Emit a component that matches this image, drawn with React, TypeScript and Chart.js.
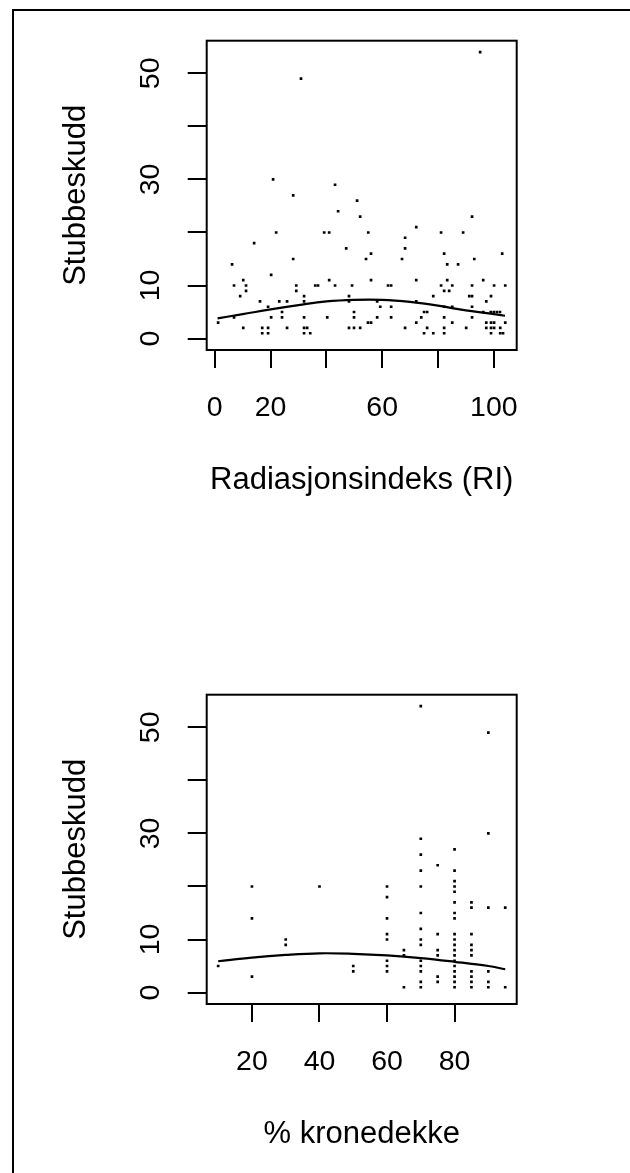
import React, { useEffect, useRef } from 'react';
import { Chart, registerables } from 'chart.js';

Chart.register(...registerables);

const FONT = "'Liberation Sans', Arial, Helvetica, sans-serif";

// ---------- Panel 1: Radiasjonsindeks (RI) vs Stubbeskudd ----------
const riX = [
  95.1, 30.9, 20.9, 43.1, 28.1,
  51.0, 44.2, 52.1, 92.2, 72.2,
  22.0, 39.2, 41.0, 55.0, 81.1, 89.0,
  68.2, 14.1, 47.1, 68.2,
  56.0, 82.2, 103.0,
  28.1, 54.2, 67.1, 93.0,
  6.2, 83.3, 87.2,
  20.2,
  10.2, 41.0, 56.0, 72.2, 83.3, 96.2,
  6.9, 11.2, 29.2, 36.0, 37.0, 43.1, 49.2, 62.1, 63.2, 81.1, 85.1, 92.2, 100.1, 104.1,
  11.2, 29.2, 82.2, 84.0,
  9.1, 32.0, 48.1, 78.3, 91.2, 92.2, 99.0,
  16.2, 23.1, 25.9, 32.0, 48.1, 58.2, 72.2, 97.3,
  19.1, 59.3, 63.2, 82.2, 85.1, 92.2,
  24.1, 49.9, 75.0, 76.1, 96.2, 98.9, 100.0, 101.1, 102.2,
  6.9, 20.2, 24.1, 32.0, 40.3, 49.9, 58.2, 63.2, 74.0, 82.2, 92.2,
  1.2, 54.9, 56.0, 72.2, 85.1, 97.3, 99.0, 100.1, 104.1,
  10.2, 17.0, 19.1, 25.9, 32.0, 33.1, 48.1, 49.9, 52.1, 68.2, 76.1, 82.2, 90.1, 97.3, 99.0, 100.1, 102.3,
  17.0, 19.1, 32.0, 34.2, 75.0, 78.3, 82.2, 99.0, 102.3, 103.3,
];
const riY = [
  54, 49, 30, 29, 27,
  26, 24, 23, 23, 21,
  20, 20, 20, 20, 20, 20,
  19, 18, 17, 17,
  16, 16, 16,
  15, 15, 15, 15,
  14, 14, 14,
  12,
  11, 11, 11, 11, 11, 11,
  10, 10, 10, 10, 10, 10, 10, 10, 10, 10, 10, 10, 10, 10,
  9, 9, 9, 9,
  8, 8, 8, 8, 8, 8, 8,
  7, 7, 7, 7, 7, 7, 7, 7,
  6, 6, 6, 6, 6, 6,
  5, 5, 5, 5, 5, 5, 5, 5, 5,
  4, 4, 4, 4, 4, 4, 4, 4, 4, 4, 4,
  3, 3, 3, 3, 3, 3, 3, 3, 3,
  2, 2, 2, 2, 2, 2, 2, 2, 2, 2, 2, 2, 2, 2, 2, 2, 2,
  1, 1, 1, 1, 1, 1, 1, 1, 1, 1,
];
const riCurveX = [1, 10, 20, 30, 40, 50, 60, 70, 80, 90, 100, 104];
const riCurveY = [3.8, 4.6, 5.5, 6.3, 7.0, 7.3, 7.3, 6.9, 6.2, 5.3, 4.6, 4.3];
const riTicks = [0, 20, 40, 60, 80, 100];
const riTickLabels = ['0', '20', '', '60', '', '100'];
const riTitle = 'Radiasjonsindeks (RI)';

// ---------- Panel 2: % kronedekke vs Stubbeskudd ----------
const kdX = [
  10,
  20, 20, 20,
  30, 30,
  40,
  50, 50,
  60, 60, 60, 60, 60, 60, 60, 60,
  65, 65, 65,
  70, 70, 70, 70, 70, 70, 70, 70, 70, 70, 70, 70, 70, 70,
  75, 75, 75, 75, 75, 75,
  80, 80, 80, 80, 80, 80, 80, 80, 80, 80, 80, 80, 80, 80, 80, 80, 80, 80, 80,
  85, 85, 85, 85, 85, 85, 85, 85, 85, 85,
  90, 90, 90, 90, 90, 90,
  95, 95,
];
const kdY = [
  5,
  20, 14, 3,
  10, 9,
  20,
  5, 4,
  20, 18, 14, 11, 10, 6, 5, 4,
  8, 7, 1,
  54, 29, 26, 23, 20, 15, 12, 10, 9, 6, 5, 4, 2, 1,
  24, 11, 8, 7, 3, 2,
  27, 23, 21, 20, 19, 17, 15, 14, 11, 10, 9, 8, 7, 6, 5, 4, 3, 2, 1,
  17, 16, 11, 9, 8, 7, 4, 3, 2, 1,
  49, 30, 16, 4, 2, 1,
  16, 1,
];
const kdCurveX = [10, 20, 30, 40, 50, 60, 70, 80, 90, 95];
const kdCurveY = [5.9, 6.6, 7.1, 7.4, 7.3, 7.0, 6.5, 5.8, 5.0, 4.4];
const kdTicks = [20, 40, 60, 80];
const kdTickLabels = ['20', '40', '60', '80'];
const kdTitle = '% kronedekke';

// ---------- shared y axis ----------
const yTicks = [0, 10, 20, 30, 40, 50];
const yTickLabels = ['0', '10', '', '30', '', '50'];
const yTitle = 'Stubbeskudd';

const boxPlugin = {
  id: 'plotBox',
  afterDatasetsDraw(chart: any) {
    const { ctx, chartArea } = chart;
    ctx.save();
    ctx.strokeStyle = '#000';
    ctx.lineWidth = 2;
    ctx.strokeRect(chartArea.left, chartArea.top, chartArea.right - chartArea.left, chartArea.bottom - chartArea.top);
    ctx.restore();
  },
};

type PanelProps = {
  top: number;
  xs: number[];
  ys: number[];
  cx: number[];
  cy: number[];
  xMin: number;
  xMax: number;
  xTicks: number[];
  xLabels: string[];
  xTitle: string;
};

function Panel({ top, xs, ys, cx, cy, xMin, xMax, xTicks, xLabels, xTitle }: PanelProps) {
  const ref = useRef<HTMLCanvasElement>(null);
  useEffect(() => {
    const chart = new Chart(ref.current as HTMLCanvasElement, {
      type: 'scatter',
      data: {
        datasets: [
          {
            type: 'line',
            data: cx.map((x, i) => ({ x, y: cy[i] })),
            borderColor: '#000',
            borderWidth: 2.2,
            pointRadius: 0,
            tension: 0.4,
            fill: false,
          } as any,
          {
            type: 'scatter',
            data: xs.map((x, i) => ({ x, y: ys[i] })),
            pointStyle: 'rect',
            pointRadius: 1.9,
            pointHoverRadius: 1.9,
            backgroundColor: '#000',
            borderColor: '#000',
            borderWidth: 0,
          } as any,
        ],
      },
      options: {
        responsive: false,
        animation: false,
        devicePixelRatio: 1,
        events: [],
        layout: { padding: { left: 58.1, right: 113.3, top: 40.7, bottom: 155.4 } },
        plugins: { legend: { display: false }, tooltip: { enabled: false } },
        scales: {
          x: {
            type: 'linear',
            position: 'bottom',
            min: xMin,
            max: xMax,
            afterBuildTicks: (s: any) => {
              s.ticks = xTicks.map((v) => ({ value: v }));
            },
            ticks: {
              callback: (v: any) => {
                const i = xTicks.indexOf(Number(v));
                return i >= 0 ? xLabels[i] : '';
              },
              autoSkip: false,
              maxRotation: 0,
              minRotation: 0,
              padding: 23.4,
              color: '#000',
              font: { family: FONT, size: 28.5 },
            },
            grid: { display: true, drawOnChartArea: false, drawTicks: true, tickLength: 18, color: '#000', lineWidth: 2 },
            border: { display: false },
            title: { display: true, text: xTitle, color: '#000', font: { family: FONT, size: 31 }, padding: { top: 12.4, bottom: 0 } },
          },
          y: {
            type: 'linear',
            position: 'left',
            min: -2.16,
            max: 56.16,
            afterBuildTicks: (s: any) => {
              s.ticks = yTicks.map((v) => ({ value: v }));
            },
            ticks: {
              callback: (v: any) => {
                const i = yTicks.indexOf(Number(v));
                return i >= 0 ? yTickLabels[i] : '';
              },
              autoSkip: false,
              minRotation: 90,
              maxRotation: 90,
              crossAlign: 'center',
              padding: 21.15,
              color: '#000',
              font: { family: FONT, size: 28.5 },
            },
            grid: { display: true, drawOnChartArea: false, drawTicks: true, tickLength: 19, color: '#000', lineWidth: 2 },
            border: { display: false },
            title: { display: true, text: yTitle, color: '#000', font: { family: FONT, size: 31 }, padding: { top: 0, bottom: 15.9 } },
          },
        },
      } as any,
      plugins: [boxPlugin],
    });
    return () => chart.destroy();
  }, []);
  return (
    <canvas
      ref={ref}
      width={630}
      height={654}
      style={{ position: 'absolute', left: 0, top, width: 630, height: 654 }}
    />
  );
}

export default function App() {
  return (
    <div style={{ position: 'absolute', left: 0, top: 0, width: 630, height: 1173, overflow: 'hidden', background: '#fff' }}>
      <div
        style={{
          position: 'absolute',
          left: 12,
          top: 9,
          width: 2000,
          height: 3000,
          border: '2px solid #000',
          boxSizing: 'border-box',
        }}
      />
      <Panel top={0} xs={riX} ys={riY} cx={riCurveX} cy={riCurveY} xMin={-2.9} xMax={108.2} xTicks={riTicks} xLabels={riTickLabels} xTitle={riTitle} />
      <Panel top={654} xs={kdX} ys={kdY} cx={kdCurveX} cy={kdCurveY} xMin={6.6} xMax={98.4} xTicks={kdTicks} xLabels={kdTickLabels} xTitle={kdTitle} />
    </div>
  );
}
